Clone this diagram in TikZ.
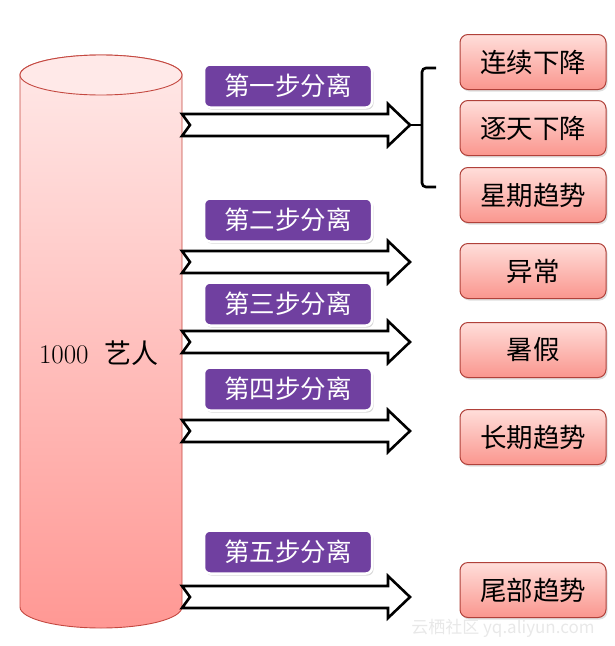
\documentclass[tikz,border=0pt]{standalone}
\usepackage{fontspec}
\newfontfamily\cjk{Noto Sans CJK SC}
\usetikzlibrary{calc, shadows}
\definecolor{cylred}{RGB}{196,72,64}
\definecolor{cyltop}{RGB}{255,233,232}
\definecolor{cylbot}{RGB}{255,152,148}
\definecolor{leaftop}{RGB}{255,222,218}
\definecolor{leafbot}{RGB}{250,150,142}
\definecolor{steppurple}{RGB}{112,64,160}
\definecolor{markgray}{RGB}{232,232,232}

% block arrow with notched tail: #1 tail, #2 tip
\newcommand{\fatarrow}[2]{%
  \draw[fatarrow] ($(#1)+(0,-11)$) -- ($(#2)+(-22,-11)$) -- ($(#2)+(-22,-21)$)
    -- (#2) -- ($(#2)+(-22,21)$) -- ($(#2)+(-22,11)$) -- ($(#1)+(0,11)$)
    -- ($(#1)+(8,0)$) -- cycle;}

\begin{document}
\begin{tikzpicture}[
    x=1pt, y=-1pt,
    leaf/.style={draw=cylred!90!black, line width=1pt, rounded corners=8pt,
        top color=leaftop, bottom color=leafbot,
        drop shadow={opacity=0.25, shadow xshift=1.5pt, shadow yshift=-2pt},
        minimum width=146pt, minimum height=55pt,
        font=\cjk\fontsize{26.5}{30}\selectfont, text=black},
    stepbox/.style={draw=white, line width=2.5pt, fill=steppurple, rounded corners=6pt,
        drop shadow={opacity=0.3, shadow xshift=1.5pt, shadow yshift=-2pt},
        minimum width=168pt, minimum height=43pt,
        font=\cjk\fontsize{25.5}{29}\selectfont, text=white},
    fatarrow/.style={draw=black, line width=2.6pt, fill=white, line join=miter},
    bracket/.style={draw=black, line width=2.6pt, rounded corners=4pt}
]
\useasboundingbox (0,0) rectangle (615,646);

% cylinder
\shade[top color=cyltop, bottom color=cylbot, draw=cylred, line width=0.9pt]
    (20,75) -- (20,607) arc[start angle=180, end angle=0, x radius=81, y radius=21]
    -- (182,75) arc[start angle=0, end angle=-180, x radius=81, y radius=20] -- cycle;
\draw[cylred, line width=0.9pt, fill=cyltop] (101,75) ellipse[x radius=81, y radius=20];
\node[font=\fontsize{27}{31}\selectfont] (cyl) at (99,353) {1000\ \ {\cjk 艺人}};
\coordinate (cylE) at (182,353);

% arrow tips
\coordinate (brace) at (410,125);
\coordinate (t2) at (410,262);
\coordinate (t3) at (410,342);
\coordinate (t4) at (410,431);
\coordinate (t5) at (410,597);

\fatarrow{cylE |- brace}{brace}
\fatarrow{cylE |- t2}{t2}
\fatarrow{cylE |- t3}{t3}
\fatarrow{cylE |- t4}{t4}
\fatarrow{cylE |- t5}{t5}

% step labels
\node[stepbox] (s1) at (288,86) {第一步分离};
\node[stepbox] (s2) at (288,220) {第二步分离};
\node[stepbox] (s3) at (288,304) {第三步分离};
\node[stepbox] (s4) at (288,389) {第四步分离};
\node[stepbox] (s5) at (288,552) {第五步分离};

% results
\node[leaf] (b1) at (533,62) {连续下降};
\node[leaf] (b2) at (533,128) {逐天下降};
\node[leaf] (b3) at (533,195) {星期趋势};
\node[leaf] (b4) at (533,271) {异常};
\node[leaf] (b5) at (533,350) {暑假};
\node[leaf] (b6) at (533,437) {长期趋势};
\node[leaf] (b7) at (533,590) {尾部趋势};

% bracket
\draw[bracket] (436,68) -- (422,68) -- (422,187) -- (436,187);
\draw[bracket] (422,125) -- (brace);

\node[text=markgray, font=\cjk\fontsize{17}{20}\selectfont] (mark) at (503,628) {云栖社区 yq.aliyun.com};
\end{tikzpicture}
\end{document}
